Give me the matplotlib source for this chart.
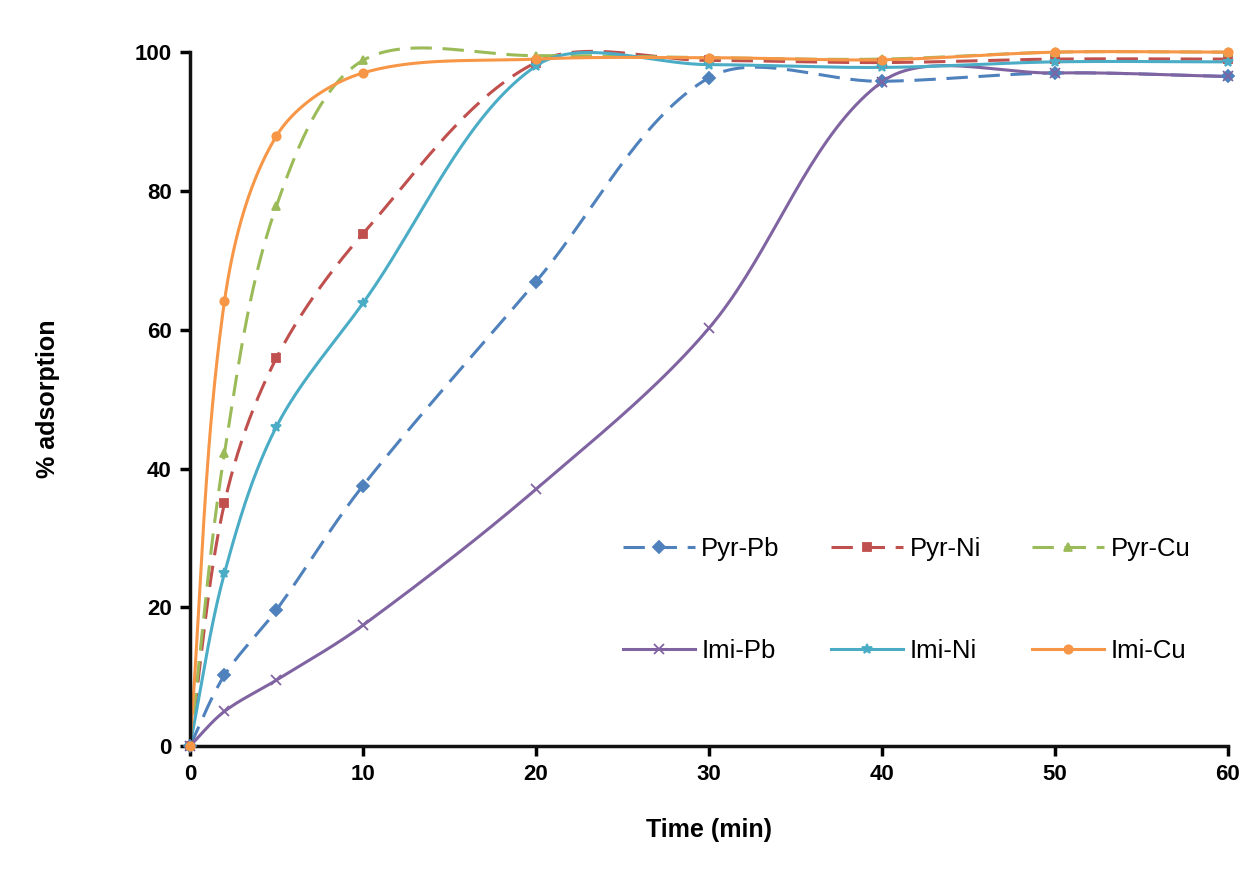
import numpy as np
import matplotlib
matplotlib.use("Agg")
import matplotlib.pyplot as plt

plt.rcParams['font.family'] = ['Liberation Sans', 'DejaVu Sans']

# contact time (min)
time_min = [0, 2, 5, 10, 20, 30, 40, 50, 60]

# % adsorption
pyr_pb = [0, 10.2, 19.6, 37.5, 66.9, 96.3, 95.8, 97.0, 96.5]
pyr_ni = [0, 35.0, 55.9, 73.8, 98.5, 98.8, 98.5, 99.0, 99.0]
pyr_cu = [0, 42.2, 77.8, 98.8, 99.5, 99.2, 99.0, 100.0, 100.0]
imi_pb = [0, 5.0, 9.5, 17.4, 37.0, 60.2, 95.7, 97.0, 96.5]
imi_ni = [0, 24.9, 46.0, 63.8, 98.0, 98.2, 97.8, 98.6, 98.6]
imi_cu = [0, 64.1, 87.9, 97.0, 99.0, 99.2, 98.9, 100.0, 100.0]

labels = ["Pyr-Pb", "Pyr-Ni", "Pyr-Cu", "Imi-Pb", "Imi-Ni", "Imi-Cu"]
colors = ["#4F81BD", "#C0504D", "#9BBB59", "#8064A2", "#4BACC6", "#F79646"]
markers = ["D", "s", "^", "x", "*", "o"]
styles = ["dashed", "dashed", "dashed", "solid", "solid", "solid"]

# approx pixels per data unit, used so the smoothing works in screen space
SX, SY = 17.3, 6.94


def smooth(xs, ys, n=40):
    # excel-like smoothed line: cubic bezier through the points,
    # tangents weighted by neighbouring segment lengths
    pts = np.column_stack([np.asarray(xs, float) * SX, np.asarray(ys, float) * SY])
    out = []
    t = np.linspace(0, 1, n)[:, None]
    for i in range(len(pts) - 1):
        p0 = pts[i - 1] if i > 0 else pts[i]
        p1 = pts[i]
        p2 = pts[i + 1]
        p3 = pts[i + 2] if i + 2 < len(pts) else pts[i + 1]
        d01 = np.hypot(*(p1 - p0))
        d12 = np.hypot(*(p2 - p1))
        d23 = np.hypot(*(p3 - p2))
        w1 = d12 / (d01 + d12) if d01 + d12 > 0 else 0.5
        w2 = d12 / (d12 + d23) if d12 + d23 > 0 else 0.5
        c1 = p1 + (p2 - p0) * w1 / 3.0
        c2 = p2 - (p3 - p1) * w2 / 3.0
        seg = ((1 - t) ** 3) * p1 + 3 * ((1 - t) ** 2) * t * c1 + 3 * (1 - t) * t ** 2 * c2 + t ** 3 * p2
        out.append(seg)
    seg = np.vstack(out)
    return seg[:, 0] / SX, seg[:, 1] / SY


fig = plt.figure(figsize=(12.49, 8.84), dpi=100)
ax = fig.add_axes([0.152, 0.156, 0.831, 0.785])

series = [pyr_pb, pyr_ni, pyr_cu, imi_pb, imi_ni, imi_cu]
handles = []
for ys, lab, col, mk, ls in zip(series, labels, colors, markers, styles):
    sx, sy = smooth(time_min, ys)
    dash = (0, (7, 3.5)) if ls == "dashed" else "solid"
    ax.plot(sx, sy, color=col, lw=2.2, linestyle=dash, clip_on=False, zorder=2)
    ms = 7 if mk in ("x", "*") else 6
    ax.plot(time_min, ys, linestyle="none", marker=mk, color=col, ms=ms,
            mew=1.3, clip_on=False, zorder=3)
    h, = ax.plot([], [], color=col, lw=2.2, linestyle=dash, marker=mk, ms=ms, mew=1.3, label=lab)
    handles.append(h)

ax.set_xlim(0, 60)
ax.set_ylim(0, 100)
ax.set_xticks(range(0, 61, 10))
ax.set_yticks(range(0, 101, 20))

for s in ["top", "right"]:
    ax.spines[s].set_visible(False)
for s in ["left", "bottom"]:
    ax.spines[s].set_linewidth(2.5)
    ax.spines[s].set_color("#111111")

ax.tick_params(axis="both", direction="out", length=7, width=2.5, labelsize=16, pad=6)
for lbl in ax.get_xticklabels() + ax.get_yticklabels():
    lbl.set_fontweight("bold")

ax.set_xlabel("Time (min)", fontsize=18, fontweight="bold", labelpad=24)
ax.set_ylabel("% adsorption", fontsize=18, fontweight="bold", labelpad=54)

# legend rows: Pyr on top, Imi below (matplotlib fills column by column)
order = [0, 3, 1, 4, 2, 5]
leg = ax.legend([handles[i] for i in order], [labels[i] for i in order],
                loc="upper left", bbox_to_anchor=(623 / 1249, 1 - 537 / 884),
                bbox_transform=fig.transFigure, ncol=3, frameon=False,
                fontsize=18.5, handlelength=2.8, columnspacing=2.0, labelspacing=3.05,
                handletextpad=0.25, borderpad=0, borderaxespad=0)

fig.savefig("out.png", dpi=100)
